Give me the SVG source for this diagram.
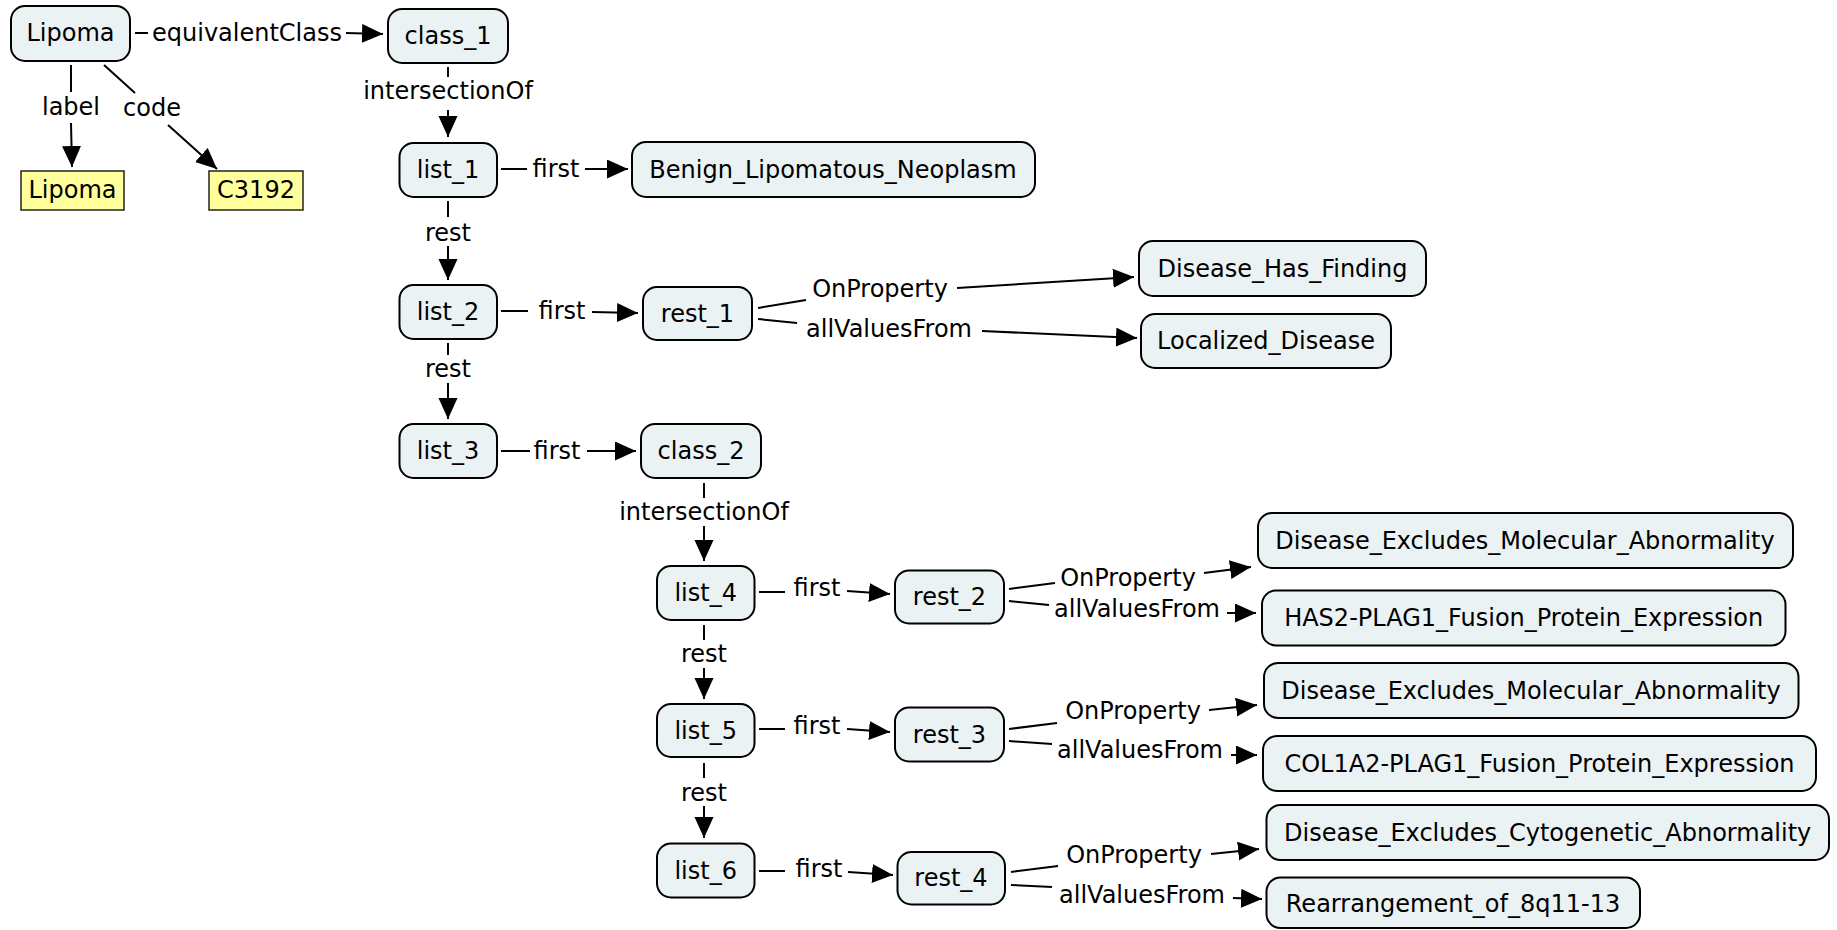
<svg xmlns="http://www.w3.org/2000/svg" width="1837" height="930" viewBox="0 0 1837 930">
<defs>
<marker id="ah" markerUnits="userSpaceOnUse" markerWidth="22" markerHeight="20" refX="21" refY="9.5" orient="auto">
<path d="M0,0 L21,9.5 L0,19 z" fill="#000"/>
</marker>
<style>
.b rect{fill:#ebf2f4;stroke:#000;stroke-width:2}
.y rect{fill:#ffff9c;stroke:#222;stroke-width:1.5}
text{font-family:"DejaVu Sans","Liberation Sans",sans-serif;font-size:24px;fill:#000;text-anchor:middle}
.e line{stroke:#000;stroke-width:2}
.e line.a{marker-end:url(#ah)}
</style>
</defs>
<rect width="1837" height="930" fill="#fff"/>

<g id="connectors" class="e">
<!-- equivalentClass -->
<line x1="135" y1="33" x2="148" y2="33"/>
<text x="247" y="41">equivalentClass</text>
<line class="a" x1="346" y1="33" x2="383" y2="34"/>
<!-- label -->
<line x1="71" y1="65" x2="71" y2="92"/>
<text x="71" y="115">label</text>
<line class="a" x1="71" y1="123" x2="72" y2="167"/>
<!-- code -->
<line x1="104" y1="65" x2="135" y2="93"/>
<text x="152" y="116">code</text>
<line class="a" x1="168" y1="125" x2="217" y2="169"/>
<!-- intersectionOf class_1 -->
<line x1="448" y1="67" x2="448" y2="77"/>
<text x="448" y="99">intersectionOf</text>
<line class="a" x1="448" y1="110" x2="448" y2="137"/>
<!-- list_1 first -->
<line x1="501" y1="169" x2="527" y2="169"/>
<text x="556" y="177">first</text>
<line class="a" x1="585" y1="169" x2="628" y2="169"/>
<!-- list_1 rest -->
<line x1="448" y1="201" x2="448" y2="217"/>
<text x="448" y="241">rest</text>
<line class="a" x1="448" y1="246" x2="448" y2="280"/>
<!-- list_2 first -->
<line x1="501" y1="311" x2="528" y2="311"/>
<text x="562" y="319">first</text>
<line class="a" x1="592" y1="312" x2="638" y2="313"/>
<!-- rest_1 OnProperty -->
<line x1="758" y1="308" x2="806" y2="300"/>
<text x="880" y="297">OnProperty</text>
<line class="a" x1="957" y1="288" x2="1134" y2="277"/>
<!-- rest_1 allValuesFrom -->
<line x1="758" y1="319" x2="797" y2="323"/>
<text x="889" y="337">allValuesFrom</text>
<line class="a" x1="982" y1="331" x2="1137" y2="338"/>
<!-- list_2 rest -->
<line x1="448" y1="343" x2="448" y2="355"/>
<text x="448" y="377">rest</text>
<line class="a" x1="448" y1="383" x2="448" y2="419"/>
<!-- list_3 first -->
<line x1="501" y1="451" x2="530" y2="451"/>
<text x="557" y="459">first</text>
<line class="a" x1="587" y1="451" x2="636" y2="451"/>
<!-- class_2 intersectionOf -->
<line x1="704" y1="483" x2="704" y2="498"/>
<text x="704" y="520">intersectionOf</text>
<line class="a" x1="704" y1="526" x2="704" y2="561"/>
<!-- list_4 first -->
<line x1="759" y1="592" x2="785" y2="592"/>
<text x="817" y="596">first</text>
<line class="a" x1="847" y1="591" x2="890" y2="594"/>
<!-- rest_2 OnProperty -->
<line x1="1009" y1="589" x2="1055" y2="583"/>
<text x="1128" y="586">OnProperty</text>
<line class="a" x1="1204" y1="573" x2="1251" y2="567"/>
<!-- rest_2 allValuesFrom -->
<line x1="1009" y1="601" x2="1049" y2="605"/>
<text x="1137" y="617">allValuesFrom</text>
<line class="a" x1="1227" y1="613" x2="1256" y2="613"/>
<!-- list_4 rest -->
<line x1="704" y1="625" x2="704" y2="640"/>
<text x="704" y="662">rest</text>
<line class="a" x1="704" y1="668" x2="704" y2="699"/>
<!-- list_5 first -->
<line x1="759" y1="729" x2="785" y2="729"/>
<text x="817" y="734">first</text>
<line class="a" x1="847" y1="729" x2="890" y2="732"/>
<!-- rest_3 OnProperty -->
<line x1="1009" y1="729" x2="1057" y2="723"/>
<text x="1133" y="719">OnProperty</text>
<line class="a" x1="1209" y1="710" x2="1257" y2="705"/>
<!-- rest_3 allValuesFrom -->
<line x1="1009" y1="741" x2="1052" y2="744"/>
<text x="1140" y="758">allValuesFrom</text>
<line class="a" x1="1231" y1="755" x2="1257" y2="755"/>
<!-- list_5 rest -->
<line x1="704" y1="763" x2="704" y2="778"/>
<text x="704" y="801">rest</text>
<line class="a" x1="704" y1="806" x2="704" y2="838"/>
<!-- list_6 first -->
<line x1="759" y1="871" x2="785" y2="871"/>
<text x="819" y="877">first</text>
<line class="a" x1="848" y1="872" x2="893" y2="875"/>
<!-- rest_4 OnProperty -->
<line x1="1011" y1="872" x2="1058" y2="866"/>
<text x="1134" y="863">OnProperty</text>
<line class="a" x1="1211" y1="854" x2="1259" y2="849"/>
<!-- rest_4 allValuesFrom -->
<line x1="1011" y1="885" x2="1052" y2="887"/>
<text x="1142" y="903">allValuesFrom</text>
<line class="a" x1="1233" y1="898" x2="1262" y2="899"/>
</g>

<g id="n-lipoma" class="b"><rect x="11" y="6" width="119" height="55" rx="14"/><text x="70.5" y="41">Lipoma</text></g>
<g id="n-class1" class="b"><rect x="388" y="9" width="120" height="54" rx="14"/><text x="448" y="44">class_1</text></g>
<g id="n-label" class="y"><rect x="21" y="171" width="103" height="39"/><text x="72.5" y="198">Lipoma</text></g>
<g id="n-code" class="y"><rect x="209" y="171" width="94" height="39"/><text x="256" y="198">C3192</text></g>
<g id="n-list1" class="b"><rect x="399.5" y="143" width="97.5" height="54" rx="14"/><text x="448" y="178">list_1</text></g>
<g id="n-benign" class="b"><rect x="632" y="142" width="403" height="55" rx="14"/><text x="833" y="178">Benign_Lipomatous_Neoplasm</text></g>
<g id="n-list2" class="b"><rect x="399.5" y="285" width="97.5" height="54" rx="14"/><text x="448" y="320">list_2</text></g>
<g id="n-rest1" class="b"><rect x="643" y="287" width="109" height="53" rx="14"/><text x="697.5" y="322">rest_1</text></g>
<g id="n-dhf" class="b"><rect x="1139" y="241" width="287" height="55" rx="14"/><text x="1282.5" y="277">Disease_Has_Finding</text></g>
<g id="n-ld" class="b"><rect x="1141" y="314" width="250" height="54" rx="14"/><text x="1266" y="349">Localized_Disease</text></g>
<g id="n-list3" class="b"><rect x="399.5" y="424" width="97.5" height="54" rx="14"/><text x="448" y="459">list_3</text></g>
<g id="n-class2" class="b"><rect x="641" y="424" width="120" height="54" rx="14"/><text x="701" y="459">class_2</text></g>
<g id="n-list4" class="b"><rect x="657" y="566" width="97.5" height="54" rx="14"/><text x="705.7" y="601">list_4</text></g>
<g id="n-rest2" class="b"><rect x="895" y="570.5" width="109" height="53" rx="14"/><text x="949.5" y="605">rest_2</text></g>
<g id="n-dema1" class="b"><rect x="1258" y="513" width="535" height="55" rx="14"/><text x="1525" y="549">Disease_Excludes_Molecular_Abnormality</text></g>
<g id="n-has2" class="b"><rect x="1262" y="590.5" width="523.5" height="55" rx="14"/><text x="1523.7" y="626">HAS2-PLAG1_Fusion_Protein_Expression</text></g>
<g id="n-list5" class="b"><rect x="657" y="704" width="97.5" height="53" rx="14"/><text x="705.7" y="739">list_5</text></g>
<g id="n-rest3" class="b"><rect x="895" y="707.5" width="109" height="54" rx="14"/><text x="949.5" y="743">rest_3</text></g>
<g id="n-dema2" class="b"><rect x="1264" y="663" width="534.5" height="55" rx="14"/><text x="1531" y="699">Disease_Excludes_Molecular_Abnormality</text></g>
<g id="n-col1a2" class="b"><rect x="1263" y="736" width="553" height="55" rx="14"/><text x="1539.5" y="772">COL1A2-PLAG1_Fusion_Protein_Expression</text></g>
<g id="n-list6" class="b"><rect x="657" y="843.5" width="97.5" height="54" rx="14"/><text x="705.7" y="879">list_6</text></g>
<g id="n-rest4" class="b"><rect x="897.5" y="852" width="107.5" height="52.5" rx="14"/><text x="951" y="886">rest_4</text></g>
<g id="n-deca" class="b"><rect x="1266.5" y="805" width="562.5" height="55" rx="14"/><text x="1547.7" y="841">Disease_Excludes_Cytogenetic_Abnormality</text></g>
<g id="n-rearr" class="b"><rect x="1266.5" y="877.5" width="373.5" height="50.5" rx="14"/><text x="1453" y="912">Rearrangement_of_8q11-13</text></g>
</svg>
